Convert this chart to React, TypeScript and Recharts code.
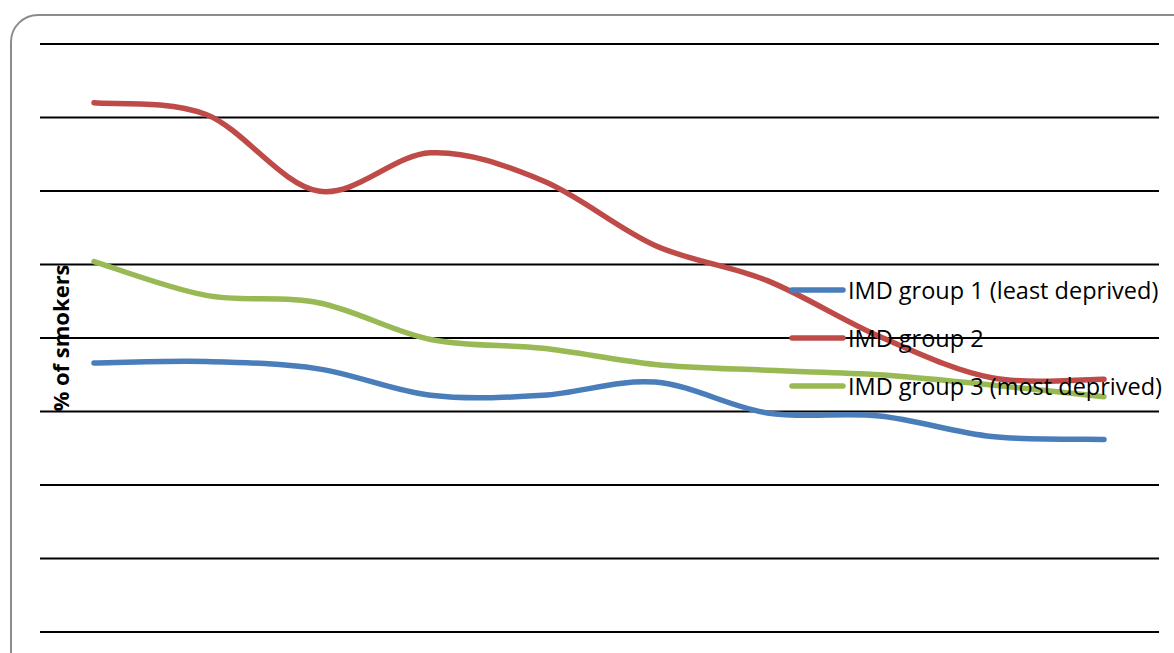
import React from 'react';
import { LineChart, Line, XAxis, YAxis, CartesianGrid, Legend } from 'recharts';

// Survey periods (not labelled on the chart)
const periods = ['P1', 'P2', 'P3', 'P4', 'P5', 'P6', 'P7', 'P8', 'P9', 'P10'];

// % of smokers by IMD group
const imdGroup1 = [18.3, 18.4, 17.9, 16.1, 16.1, 17.0, 14.9, 14.7, 13.3, 13.1];
const imdGroup2 = [36.0, 35.2, 30.0, 32.6, 30.7, 26.3, 23.9, 20.1, 17.3, 17.2];
const imdGroup3 = [25.2, 22.9, 22.4, 19.9, 19.3, 18.2, 17.8, 17.5, 16.8, 16.0];

const yTicks = [0, 5, 10, 15, 20, 25, 30, 35, 40];

const seriesNames = ['IMD group 1 (least deprived)', 'IMD group 2', 'IMD group 3 (most deprived)'];
const seriesColors = ['#4A7EBB', '#BE4B48', '#98B954'];
const seriesKeys = ['g1', 'g2', 'g3'];

const data = periods.map((p, i) => ({
  period: p,
  g1: imdGroup1[i],
  g2: imdGroup2[i],
  g3: imdGroup3[i],
}));

// Catmull-Rom style smoothing (like spreadsheet "smoothed line")
const smoothCurve = (context: any) => {
  let pts: number[][] = [];
  return {
    areaStart() {},
    areaEnd() {},
    lineStart() {
      pts = [];
    },
    point(x: number, y: number) {
      pts.push([+x, +y]);
    },
    lineEnd() {
      const n = pts.length;
      if (!n) return;
      context.moveTo(pts[0][0], pts[0][1]);
      for (let i = 0; i < n - 1; i++) {
        const p0 = pts[Math.max(i - 1, 0)];
        const p1 = pts[i];
        const p2 = pts[i + 1];
        const p3 = pts[Math.min(i + 2, n - 1)];
        context.bezierCurveTo(
          p1[0] + (p2[0] - p0[0]) / 6,
          p1[1] + (p2[1] - p0[1]) / 6,
          p2[0] - (p3[0] - p1[0]) / 6,
          p2[1] - (p3[1] - p1[1]) / 6,
          p2[0],
          p2[1]
        );
      }
    },
  };
};

const FONT = '"Open Sans", "Noto Sans", sans-serif';

// Value ticks exist for the gridlines but print nothing
const HiddenTick = () => <g />;

const renderLegend = () => (
  <div style={{ fontFamily: FONT, fontSize: 23.5, color: '#000' }}>
    {seriesNames.map((name, i) => (
      <div key={name} style={{ display: 'flex', alignItems: 'center', height: 48, whiteSpace: 'nowrap' }}>
        <svg width={58} height={10} style={{ display: 'block' }}>
          <line x1={3} x2={54} y1={5} y2={5} stroke={seriesColors[i]} strokeWidth={5.5} strokeLinecap="round" />
        </svg>
        <span style={{ marginLeft: 1 }}>{name}</span>
      </div>
    ))}
  </div>
);

export default function App() {
  return (
    <div style={{ position: 'absolute', left: 0, top: 0, width: 1174, height: 653, overflow: 'hidden', background: '#fff' }}>
      <div
        style={{
          position: 'absolute',
          left: 10,
          top: 14,
          width: 1220,
          height: 720,
          border: '2px solid #8c8c8c',
          borderRadius: 28,
          boxSizing: 'border-box',
        }}
      />
      <div style={{ position: 'absolute', left: 0, top: 0 }}>
        <LineChart width={1174} height={653} data={data} margin={{ top: 44, right: 15, bottom: 21, left: 39 }}>
          <CartesianGrid vertical={false} stroke="#000" strokeWidth={1.8} />
          <XAxis dataKey="period" hide padding={{ left: 54, right: 55 }} />
          <YAxis
            domain={[0, 40]}
            ticks={yTicks}
            width={1}
            tick={HiddenTick}
            axisLine={false}
            tickLine={false}
            label={{
              value: '% of smokers',
              angle: -90,
              position: 'center',
              dx: 22,
              style: { fontFamily: FONT, fontSize: 22, fontWeight: 'bold', fill: '#000', textAnchor: 'middle' },
            }}
          />
          <Legend
            layout="vertical"
            align="center"
            verticalAlign="middle"
            content={renderLegend}
            wrapperStyle={{ left: 789, top: 266, width: 385 }}
          />
          {seriesKeys.map((k, i) => (
            <Line
              key={k}
              dataKey={k}
              name={seriesNames[i]}
              type={smoothCurve as any}
              stroke={seriesColors[i]}
              strokeWidth={5.5}
              strokeLinecap="round"
              dot={false}
              activeDot={false}
              isAnimationActive={false}
            />
          ))}
        </LineChart>
      </div>
    </div>
  );
}
